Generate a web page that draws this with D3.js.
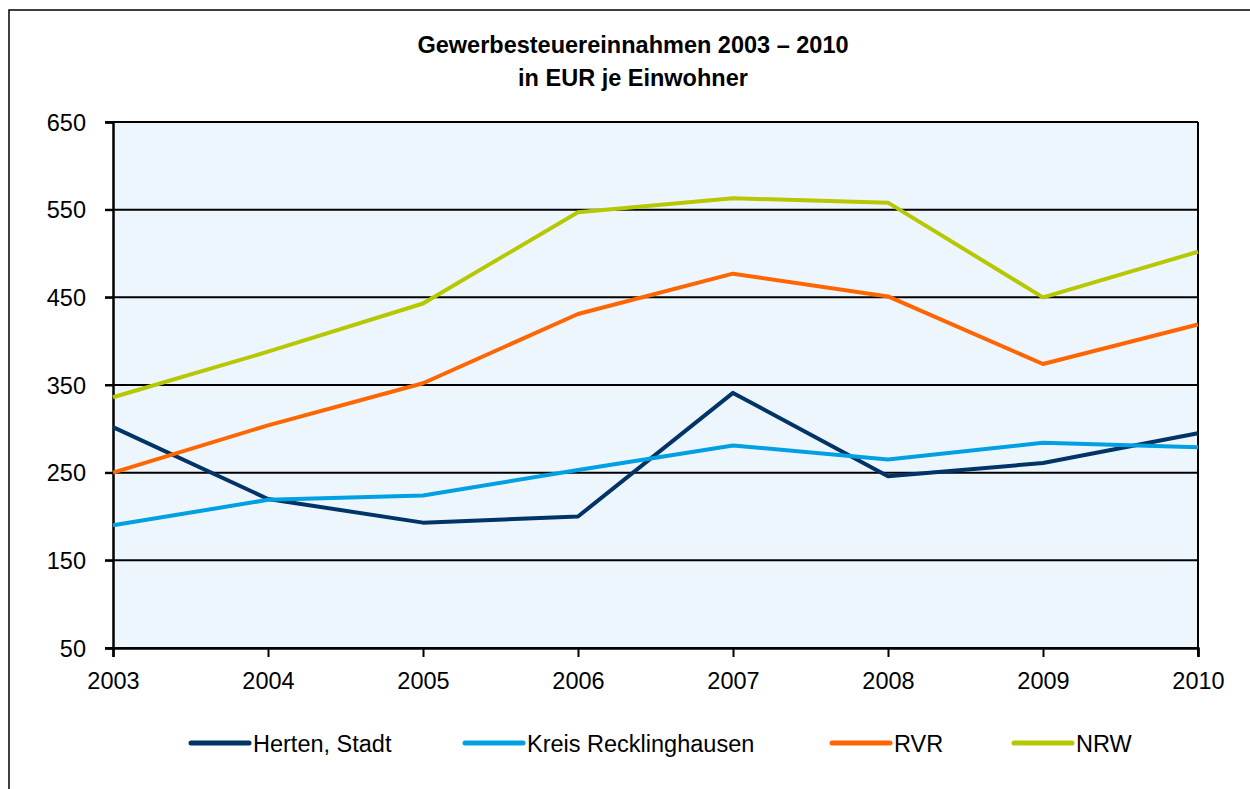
<!DOCTYPE html>
<html>
<head>
<meta charset="utf-8">
<script src="https://cdn.jsdelivr.net/npm/d3@7"></script>
<style>
  body { margin: 0; background: #fff; }
  text { font-family: "Liberation Sans", Arial, sans-serif; }
</style>
</head>
<body>
<svg></svg>
<script>
// Gewerbesteuer per inhabitant
var years = [2003, 2004, 2005, 2006, 2007, 2008, 2009, 2010];
var herten = [302, 220, 193, 200, 341, 246, 261, 295];
var kreis = [190, 219, 224, 253, 281, 265, 284, 279];
var rvr = [250, 304, 352, 431, 477, 451, 374, 419];
var nrw = [336, 388, 443, 547, 563, 558, 450, 502];
var yTicks = [50, 150, 250, 350, 450, 550, 650];

var seriesNames = ['Herten, Stadt', 'Kreis Recklinghausen', 'RVR', 'NRW'];
var seriesColors = ['#003366', '#00a0e2', '#ff6600', '#b5c800'];
var seriesValues = [herten, kreis, rvr, nrw];

var svgWidth = 1250, svgHeight = 789;
var plotLeft = 113, plotRight = 1198, plotTop = 122, plotBottom = 648;
var fontSize = '23.5px';

var svg = d3.select('svg')
    .attr('width', svgWidth)
    .attr('height', svgHeight);

// outer frame (right and bottom edges fall outside the picture)
svg.append('rect')
    .attr('x', 9).attr('y', 10)
    .attr('width', 1260).attr('height', 800)
    .attr('fill', 'none')
    .attr('stroke', '#000')
    .attr('stroke-width', 1.5);

var xScale = d3.scaleLinear()
    .domain([2003, 2010])
    .range([plotLeft, plotRight]);

var yScale = d3.scaleLinear()
    .domain([50, 650])
    .range([plotBottom, plotTop]);

svg.append('rect')
    .attr('x', plotLeft).attr('y', plotTop)
    .attr('width', plotRight - plotLeft).attr('height', plotBottom - plotTop)
    .attr('fill', '#eef6fd');

// horizontal grid lines
svg.append('g')
    .selectAll('line')
    .data(yTicks)
    .enter()
    .append('line')
    .attr('x1', plotLeft - 8)
    .attr('x2', plotRight)
    .attr('y1', function(d) { return yScale(d); })
    .attr('y2', function(d) { return yScale(d); })
    .attr('stroke', '#000')
    .attr('stroke-width', 2);

// right border of the plot
svg.append('line')
    .attr('x1', plotRight).attr('x2', plotRight)
    .attr('y1', plotTop).attr('y2', plotBottom + 8)
    .attr('stroke', '#000').attr('stroke-width', 2);

var yAxis = svg.append('g')
    .attr('transform', 'translate(' + plotLeft + ',0)')
    .call(d3.axisLeft(yScale).tickValues(yTicks).tickSize(8).tickPadding(19).tickFormat(d3.format('d')));

var xAxis = svg.append('g')
    .attr('transform', 'translate(0,' + plotBottom + ')')
    .call(d3.axisBottom(xScale).tickValues(years).tickSize(9).tickPadding(15).tickFormat(d3.format('d')));

[yAxis, xAxis].forEach(function(ax) {
    ax.select('.domain').attr('stroke', '#000').attr('stroke-width', 2.5);
    ax.selectAll('.tick line').attr('stroke', '#000').attr('stroke-width', 2);
    ax.selectAll('.tick text')
        .attr('fill', '#000')
        .style('font-size', fontSize)
        .style('font-family', '"Liberation Sans", Arial, sans-serif');
});
yAxis.selectAll('.tick text').attr('dy', '0.35em');

var line = d3.line()
    .x(function(d, i) { return xScale(years[i]); })
    .y(function(d) { return yScale(d); });

svg.append('g')
    .selectAll('path')
    .data(seriesValues)
    .enter()
    .append('path')
    .attr('d', line)
    .attr('fill', 'none')
    .attr('stroke', function(d, i) { return seriesColors[i]; })
    .attr('stroke-width', 4)
    .attr('stroke-linejoin', 'round');

// title
var title = svg.append('text')
    .attr('text-anchor', 'middle')
    .style('font-size', fontSize)
    .style('font-weight', 'bold');
title.append('tspan').attr('x', 633).attr('y', 53).text('Gewerbesteuereinnahmen 2003 – 2010');
title.append('tspan').attr('x', 633).attr('y', 86).text('in EUR je Einwohner');

// legend
var legendX = [191, 465, 832, 1014];
var legend = svg.append('g')
    .selectAll('g')
    .data(seriesNames)
    .enter()
    .append('g')
    .attr('transform', function(d, i) { return 'translate(' + legendX[i] + ',743)'; });

legend.append('line')
    .attr('x1', 0).attr('x2', 58)
    .attr('y1', 0).attr('y2', 0)
    .attr('stroke', function(d, i) { return seriesColors[i]; })
    .attr('stroke-width', 5)
    .attr('stroke-linecap', 'round');

legend.append('text')
    .attr('x', 62)
    .attr('y', 9)
    .style('font-size', fontSize)
    .text(function(d) { return d; });
</script>
</body>
</html>
